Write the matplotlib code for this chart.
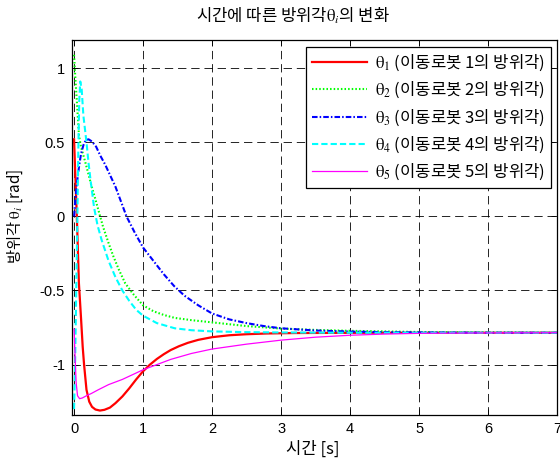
import matplotlib
matplotlib.use("Agg")
import matplotlib.pyplot as plt

plt.rcParams['font.family'] = ['Liberation Sans', 'Noto Sans CJK KR', 'DejaVu Sans']
plt.rcParams['mathtext.fontset'] = 'stix'
plt.rcParams['lines.scale_dashes'] = False

KR = ['Noto Sans CJK KR', 'DejaVu Sans']

# ---- data ----
t1 = [0, 0.02, 0.04, 0.07, 0.10, 0.125, 0.145, 0.18, 0.22, 0.26, 0.31, 0.375, 0.44, 0.52, 0.6, 0.7,
      0.8, 0.9, 1.0, 1.1, 1.2, 1.3, 1.4, 1.52, 1.65, 1.8, 2.0, 2.25, 2.5, 2.8, 3.2, 3.7, 4.5, 5.5, 7.0]
v1 = [0.52, 0.25, 0.0, -0.45, -0.68, -0.88, -1.0, -1.17, -1.25, -1.285, -1.303, -1.31, -1.305, -1.29,
      -1.26, -1.215, -1.16, -1.10, -1.045, -1.0, -0.962, -0.93, -0.902, -0.876, -0.853, -0.833, -0.815,
      -0.802, -0.795, -0.79, -0.787, -0.786, -0.785, -0.785, -0.785]

t2 = [0, 0.02, 0.04, 0.07, 0.1, 0.13, 0.16, 0.2, 0.25, 0.3, 0.36, 0.42, 0.5, 0.57, 0.65, 0.74, 0.85,
      1.0, 1.15, 1.3, 1.46, 1.7, 2.0, 2.5, 3.0, 3.5, 4.0, 5.0, 6.0, 7.0]
v2 = [1.09, 0.92, 0.78, 0.55, 0.47, 0.42, 0.37, 0.30, 0.21, 0.13, 0.03, -0.07, -0.18, -0.27, -0.36,
      -0.45, -0.52, -0.60, -0.64, -0.665, -0.685, -0.70, -0.715, -0.74, -0.757, -0.766, -0.772, -0.78,
      -0.783, -0.785]

t3 = [0, 0.02, 0.04, 0.07, 0.1, 0.135, 0.17, 0.21, 0.26, 0.32, 0.38, 0.45, 0.52, 0.6, 0.68, 0.76,
      0.88, 1.0, 1.15, 1.3, 1.45, 1.6, 1.8, 2.0, 2.25, 2.5, 2.75, 3.0, 3.5, 4.0, 4.5, 5.0, 6.0, 7.0]
v3 = [0.0, 0.12, 0.22, 0.33, 0.42, 0.48, 0.515, 0.52, 0.505, 0.47, 0.41, 0.35, 0.28, 0.2, 0.1, 0.0,
      -0.11, -0.21, -0.30, -0.39, -0.47, -0.535, -0.60, -0.655, -0.695, -0.72, -0.74, -0.755, -0.77,
      -0.777, -0.781, -0.783, -0.785, -0.785]

t4 = [0, 0.015, 0.03, 0.045, 0.06, 0.075, 0.09, 0.11, 0.135, 0.16, 0.18, 0.21, 0.24, 0.29, 0.34, 0.4,
      0.5, 0.6, 0.7, 0.8, 0.9, 1.0, 1.2, 1.46, 1.7, 2.0, 2.5, 3.0, 4.0, 7.0]
v4 = [-1.3, -1.0, -0.55, -0.1, 0.4, 0.78, 0.91, 0.86, 0.68, 0.58, 0.5, 0.36, 0.24, 0.06, -0.06, -0.16,
      -0.30, -0.41, -0.50, -0.57, -0.63, -0.67, -0.72, -0.755, -0.768, -0.776, -0.781, -0.783, -0.785,
      -0.785]

t5 = [0, 0.015, 0.03, 0.05, 0.08, 0.12, 0.18, 0.25, 0.35, 0.5, 0.7, 1.0, 1.2, 1.4, 1.7, 2.0, 2.5,
      3.0, 3.5, 4.0, 4.5, 5.0, 6.0, 7.0]
v5 = [-0.76, -0.95, -1.12, -1.21, -1.23, -1.225, -1.21, -1.195, -1.17, -1.135, -1.10, -1.035, -1.0,
      -0.965, -0.925, -0.895, -0.862, -0.835, -0.815, -0.802, -0.794, -0.789, -0.786, -0.785]

labels = [r"$\mathrm{\theta}_{1}$ (이동로봇 1의 방위각)",
          r"$\mathrm{\theta}_{2}$ (이동로봇 2의 방위각)",
          r"$\mathrm{\theta}_{3}$ (이동로봇 3의 방위각)",
          r"$\mathrm{\theta}_{4}$ (이동로봇 4의 방위각)",
          r"$\mathrm{\theta}_{5}$ (이동로봇 5의 방위각)"]

xticks = [0, 1, 2, 3, 4, 5, 6, 7]
yticks = [-1, -0.5, 0, 0.5, 1]
yticklabels = ['-1', '-0.5', '0', '0.5', '1']

fig = plt.figure(figsize=(5.6, 4.62), dpi=100)
ax = fig.add_axes([72/560, 1-415/462, (557-72)/560, (415-40)/462])

ax.plot(t1, v1, color='#FF0000', lw=1.6, ls='-', label=labels[0])
ax.plot(t2, v2, color='#00FF00', lw=1.5, ls=(0, (1.1, 1.5)), label=labels[1])
ax.plot(t3, v3, color='#0000FF', lw=1.5, ls=(0, (4.0, 1.5, 1.1, 1.5)), label=labels[2])
ax.plot(t4, v4, color='#00FFFF', lw=1.5, ls=(0, (4.5, 2.2)), label=labels[3])
ax.plot(t5, v5, color='#FF00FF', lw=0.9, ls='-', label=labels[4])

ax.set_xlim(-0.03, 7)
ax.set_ylim(-1.34, 1.19)
ax.set_xticks(xticks)
ax.set_xticklabels([str(x) for x in xticks])
ax.set_yticks(yticks)
ax.set_yticklabels(yticklabels)
ax.grid(True, color='black', lw=0.6, ls=(0, (6, 3.5)))
ax.tick_params(direction='in', length=4, width=0.6, top=True, right=True, labelsize=10.5,
               pad=5, colors='black')
for s in ax.spines.values():
    s.set_linewidth(0.9)

leg = ax.legend(loc='upper right', bbox_to_anchor=(0.988, 0.982), prop={'family': KR, 'size': 12},
                handlelength=3.3, labelspacing=0.42, borderpad=0.35, handletextpad=0.5,
                fancybox=False, framealpha=1, edgecolor='black', borderaxespad=0)
leg.get_frame().set_linewidth(0.9)

fig.text(293/560, 1-16/462, r"시간에 따른 방위각$\mathrm{\theta}_{i}$의 변화", ha='center', va='center',
         fontsize=12, family=KR)
fig.text(313/560, 1-449/462, "시간 [s]", ha='center', va='center', fontsize=12, family=KR)
fig.text(15/560, 1-216/462, r"방위각 $\mathrm{\theta}_{i}$ [rad]", ha='center', va='center',
         fontsize=11, family=KR, rotation=90)

fig.savefig('out.png', dpi=100)
